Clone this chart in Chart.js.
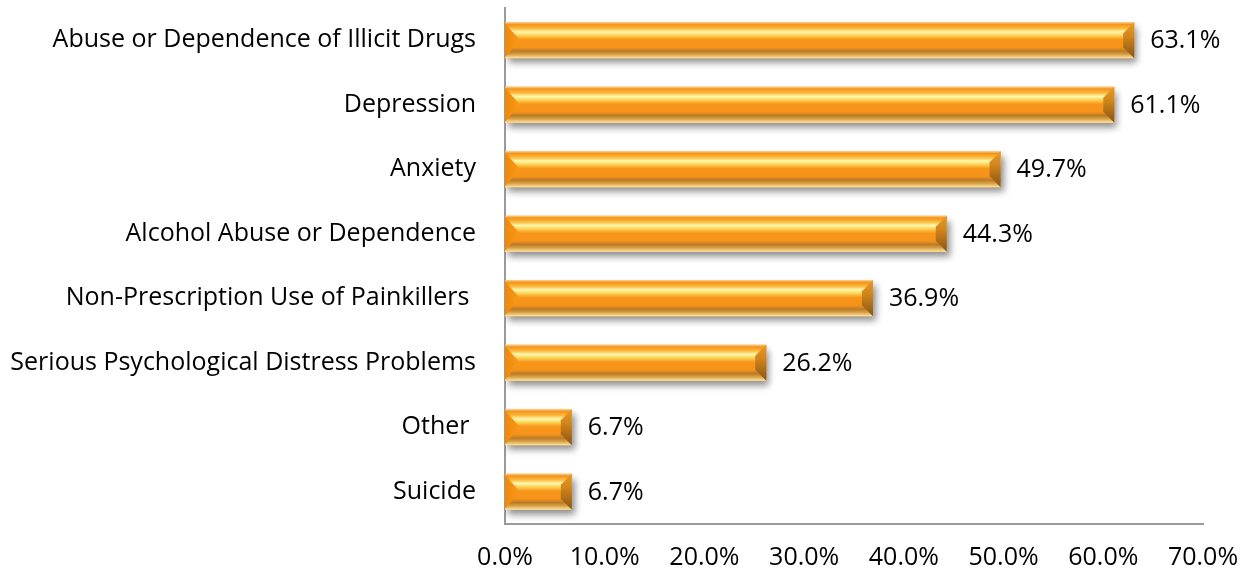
<!DOCTYPE html>
<html>
<head>
<meta charset="utf-8">
<script src="https://cdn.jsdelivr.net/npm/chart.js@4/dist/chart.umd.min.js"></script>
<style>
  html, body { margin: 0; padding: 0; background: #fff; overflow: hidden; }
  canvas { display: block; }
</style>
</head>
<body>
<canvas id="barChart" width="1243" height="573"></canvas>
<script>
const categories = [
    'Abuse or Dependence of Illicit Drugs',
    'Depression',
    'Anxiety',
    'Alcohol Abuse or Dependence',
    'Non-Prescription Use of Painkillers ',
    'Serious Psychological Distress Problems',
    'Other ',
    'Suicide'
];
const percentages = [63.1, 61.1, 49.7, 44.3, 36.9, 26.2, 6.7, 6.7];
const xTicks = [0, 10, 20, 30, 40, 50, 60, 70];

const FONT = '"Open Sans", "Noto Sans", sans-serif';
const FONT_SIZE = 25;

// soft drop shadow under the bars
const shadowPlugin = {
    id: 'barShadow',
    beforeDatasetDraw(chart) {
        const ctx = chart.ctx;
        ctx.save();
        ctx.shadowColor = 'rgba(0,0,0,0.45)';
        ctx.shadowBlur = 7;
        ctx.shadowOffsetX = 3;
        ctx.shadowOffsetY = 5;
    },
    afterDatasetDraw(chart) {
        chart.ctx.restore();
    }
};

// glossy bevel paint over each bar + value label
const bevelPlugin = {
    id: 'bevelBars',
    afterDatasetsDraw(chart) {
        const ctx = chart.ctx;
        const meta = chart.getDatasetMeta(0);
        meta.data.forEach((bar, i) => {
            const left = Math.min(bar.base, bar.x);
            const right = Math.max(bar.base, bar.x);
            const top = bar.y - bar.height / 2;
            const bottom = bar.y + bar.height / 2;
            const h = bottom - top;

            ctx.save();
            const g = ctx.createLinearGradient(0, top, 0, bottom);
            g.addColorStop(0.00, '#fbd597');
            g.addColorStop(0.06, '#f6921a');
            g.addColorStop(0.17, '#fab93a');
            g.addColorStop(0.27, '#fff8b0');
            g.addColorStop(0.36, '#fdd558');
            g.addColorStop(0.48, '#f8961a');
            g.addColorStop(0.70, '#f5931a');
            g.addColorStop(0.80, '#b97a28');
            g.addColorStop(0.89, '#d9a044');
            g.addColorStop(1.00, '#fee7a6');
            ctx.fillStyle = g;
            ctx.fillRect(left, top, right - left, h);

            // left end face
            const bl = Math.min(15, (right - left) / 3);
            const gl = ctx.createLinearGradient(left, 0, left + bl, 0);
            gl.addColorStop(0, '#f0880a');
            gl.addColorStop(1, '#f89a1c');
            ctx.fillStyle = gl;
            ctx.beginPath();
            ctx.moveTo(left, top + 1);
            ctx.lineTo(left + bl, bar.y);
            ctx.lineTo(left, bottom - 1);
            ctx.closePath();
            ctx.fill();

            // right end face
            const br = 11;
            const gr = ctx.createLinearGradient(0, top, 0, bottom);
            gr.addColorStop(0.0, '#e89a2a');
            gr.addColorStop(0.4, '#d0841a');
            gr.addColorStop(0.75, '#a56818');
            gr.addColorStop(1.0, '#875718');
            ctx.fillStyle = gr;
            ctx.beginPath();
            ctx.moveTo(right, top);
            ctx.lineTo(right, bottom);
            ctx.lineTo(right - br, bottom - br);
            ctx.lineTo(right - br, top + br);
            ctx.closePath();
            ctx.fill();

            // value label
            ctx.fillStyle = '#000';
            ctx.font = FONT_SIZE + 'px ' + FONT;
            ctx.textAlign = 'left';
            ctx.textBaseline = 'middle';
            ctx.fillText(percentages[i].toFixed(1) + '%', right + 16, bar.y + 1);
            ctx.restore();
        });
    }
};

document.addEventListener('DOMContentLoaded', function() {
    const ctx = document.getElementById('barChart').getContext('2d');
    new Chart(ctx, {
        type: 'bar',
        data: {
            labels: categories,
            datasets: [{
                data: percentages,
                backgroundColor: '#f6931c',
                borderWidth: 0,
                categoryPercentage: 1,
                barPercentage: 0.56
            }]
        },
        options: {
            indexAxis: 'y',
            responsive: false,
            animation: false,
            layout: { padding: { top: 8, right: 0, bottom: 0, left: 0 } },
            plugins: {
                legend: { display: false },
                tooltip: { enabled: false }
            },
            scales: {
                x: {
                    min: 0,
                    max: 70,
                    afterBuildTicks(axis) {
                        axis.ticks = xTicks.map(v => ({ value: v }));
                    },
                    afterFit(axis) {
                        axis.height = 49;
                        axis.paddingLeft = 0;
                        axis.paddingRight = 40;
                    },
                    grid: { display: false, drawTicks: false },
                    border: { display: true, color: '#9a9a9a', width: 2 },
                    ticks: {
                        color: '#000',
                        padding: 19,
                        font: { family: FONT, size: FONT_SIZE },
                        callback: v => v.toFixed(1) + '%'
                    }
                },
                y: {
                    afterFit(axis) {
                        axis.width = 505;
                        axis.paddingTop = 0;
                        axis.paddingBottom = 0;
                    },
                    grid: { display: false, drawTicks: false },
                    border: { display: true, color: '#9a9a9a', width: 2 },
                    ticks: {
                        color: '#000',
                        padding: 29,
                        font: { family: FONT, size: FONT_SIZE }
                    }
                }
            }
        },
        plugins: [shadowPlugin, bevelPlugin]
    });
});
</script>
</body>
</html>
